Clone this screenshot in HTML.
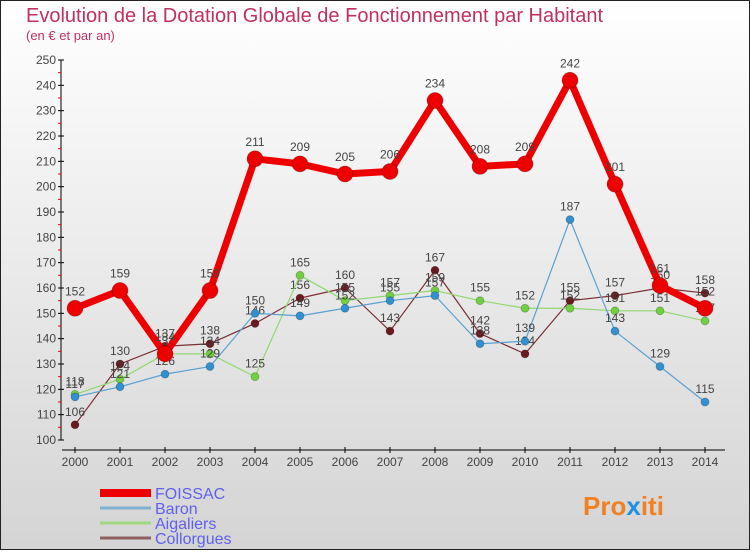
<!DOCTYPE html>
<html><head><meta charset="utf-8"><style>
body{margin:0;width:750px;height:550px;overflow:hidden;font-family:"Liberation Sans",sans-serif}
</style></head><body>
<svg width="750" height="550" xmlns="http://www.w3.org/2000/svg">
<defs><linearGradient id="bg" x1="0" y1="0" x2="0" y2="1"><stop offset="0" stop-color="#ffffff"/><stop offset="1" stop-color="#d4d4d4"/></linearGradient></defs>
<rect x="0.5" y="0.5" width="749" height="549" fill="url(#bg)" stroke="#222"/>
<text x="26" y="22" font-size="20" fill="#c03060">Evolution de la Dotation Globale de Fonctionnement par Habitant</text>
<text x="26" y="40" font-size="13" fill="#c03060">(en € et par an)</text>
<g id="axes"></g><g id="series"></g><g id="legend"></g>
<text x="583" y="515" font-size="26" font-weight="bold" fill="#f08020">Pro<tspan fill="#2090e0">x</tspan>iti</text>
</svg>
<script>
const years=[2000,2001,2002,2003,2004,2005,2006,2007,2008,2009,2010,2011,2012,2013,2014];
const yTicks=[100,110,120,130,140,150,160,170,180,190,200,210,220,230,240,250];
const foissac=[152,159,134,159,211,209,205,206,234,208,209,242,201,161,152];
const baron=[117,121,126,129,150,149,152,155,157,138,139,187,143,129,115];
const aigaliers=[118,124,134,134,125,165,155,157,159,155,152,152,151,151,147];
const collorgues=[106,130,137,138,146,156,160,143,167,142,134,155,157,160,158];
const NS="http://www.w3.org/2000/svg";
const xS=i=>75+i*45;
const yS=v=>440-(v-100)*380/150;
function mk(t,a,p){const e=document.createElementNS(NS,t);for(const k in a)e.setAttribute(k,a[k]);p.appendChild(e);return e;}
const ax=document.getElementById('axes');
let l=mk('line',{x1:61,y1:60,x2:61,y2:440,stroke:'#000'},ax);


l=mk('line',{x1:62,y1:450,x2:725,y2:450,stroke:'#000'},ax);


yTicks.forEach((v,i)=>{const y=yS(v);mk('line',{x1:58,y1:y,x2:64,y2:y,stroke:'#000'},ax);
if(i<yTicks.length-1)mk('line',{x1:58,y1:y-12.67,x2:61,y2:y-12.67,stroke:'#e00'},ax);
const t=mk('text',{x:56,y:y+4,'font-size':12,'text-anchor':'end',fill:'#444'},ax);t.textContent=v;

});
years.forEach((yr,i)=>{const x=xS(i);mk('line',{x1:x,y1:447,x2:x,y2:453,stroke:'#000'},ax);
const t=mk('text',{x:x,y:466,'font-size':12,'text-anchor':'middle',fill:'#444'},ax);t.textContent=yr;

});
const sg=document.getElementById('series');
const series=[
 {name:'Collorgues',d:collorgues,c:'#6a1a1e',lc:'#7a3035',w:1.2,r:4},
 {name:'Aigaliers',d:aigaliers,c:'#70d040',lc:'#90d870',w:1.2,r:4},
 {name:'Baron',d:baron,c:'#3090d0',lc:'#5aa0d0',w:1.2,r:4},
 {name:'FOISSAC',d:foissac,c:'#ee0000',lc:'#ee0000',w:7,r:8}];
series.forEach(s=>{const g=mk('g',{},sg);


mk('polyline',{points:s.d.map((v,i)=>xS(i)+','+yS(v)).join(' '),fill:'none',stroke:s.lc,'stroke-width':s.w,'stroke-linejoin':'round'},g);
s.d.forEach((v,i)=>{const c=mk('circle',{cx:xS(i),cy:yS(v),r:s.r,fill:s.c,stroke:'rgba(0,0,0,0.25)','stroke-width':0.8},g);


const t=mk('text',{x:xS(i),y:yS(v)-9-(s.r>5?4:0),'font-size':12,'text-anchor':'middle',fill:'#444'},g);t.textContent=v;

});});
const lg=document.getElementById('legend');
[['FOISSAC','#ee0000',8],['Baron','#80b0d0',3],['Aigaliers','#a0d880',3],['Collorgues','#906060',3]].forEach((e,i)=>{
const y=493+i*15;const g=mk('g',{},lg);


mk('line',{x1:100,y1:y,x2:151,y2:y,stroke:e[1],'stroke-width':e[2]},g);
const t=mk('text',{x:155,y:y+6,'font-size':16,fill:'#6060ee'},g);t.textContent=e[0];});
</script>
</body></html>
